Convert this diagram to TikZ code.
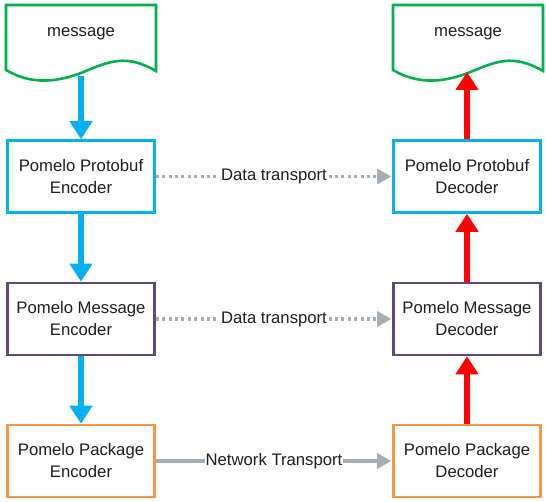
\documentclass[tikz,border=0pt]{standalone}
\usepackage{fontspec}
\setmainfont{Liberation Sans}
\usetikzlibrary{arrows.meta}
\definecolor{cblue}{HTML}{00B0F0}
\definecolor{cpurple}{HTML}{5F497A}
\definecolor{corange}{HTML}{F79646}
\definecolor{cgreen}{HTML}{00B050}
\definecolor{cgray}{HTML}{A3AEB6}
\definecolor{cred}{HTML}{FF0000}
\definecolor{ctext}{HTML}{1E1E1E}
\tikzset{
  box/.style={draw, line width=2.6pt, minimum width=147pt, minimum height=72pt, align=center, font=\fontsize{16.7}{22}\selectfont, text=ctext, fill=white},
  docshape/.style={draw=cgreen, line width=2.6pt, fill=white},
  flowdown/.style={draw=cblue, line width=5.5pt, -{Triangle[width=22pt,length=18pt]}},
  flowup/.style={draw=cred, line width=5.5pt, -{Triangle[width=22pt,length=18pt]}},
  datalink/.style={draw=cgray, line width=3.2pt, dash pattern=on 3pt off 3.4pt, -{Triangle[width=15pt,length=14pt]}, shorten >=1pt},
  netlink/.style={draw=cgray, line width=3.2pt, -{Triangle[width=15pt,length=14pt]}, shorten >=1pt},
  lbl/.style={fill=white, inner sep=1pt, text=ctext, font=\fontsize{16.7}{20}\selectfont},
  doctext/.style={text=ctext, font=\fontsize{16.7}{20}\selectfont}
}
\begin{document}
\begin{tikzpicture}[x=1pt,y=-1pt]
\useasboundingbox (0,0) rectangle (546,502);
% documents
\draw[docshape] (6,5) -- (156,5) -- (156,71) .. controls (125,53) and (108,62) .. (81,73) .. controls (52,84) and (28,83) .. (6,70) -- cycle;
\draw[docshape] (393,5) -- (543,5) -- (543,71) .. controls (512,53) and (495,62) .. (468,73) .. controls (439,84) and (415,83) .. (393,70) -- cycle;
\node[doctext] (msgL) at (81,34) {message};
\node[doctext] (msgR) at (468,34) {message};
\coordinate (msgLbot) at (81,76);
\coordinate (msgRbot) at (467,72);
% boxes
\node[box, draw=cblue] (pbE) at (81,176.5) {Pomelo Protobuf\\Encoder};
\node[box, draw=cpurple] (mE) at (81,319) {Pomelo Message\\Encoder};
\node[box, draw=corange] (pkE) at (81,461) {Pomelo Package\\Encoder};
\node[box, draw=cblue] (pbD) at (467,176.5) {Pomelo Protobuf\\Decoder};
\node[box, draw=cpurple] (mD) at (467,319) {Pomelo Message\\Decoder};
\node[box, draw=corange] (pkD) at (467,461) {Pomelo Package\\Decoder};
% flow arrows
\draw[flowdown] (msgLbot) -- (pbE.north);
\draw[flowdown] (pbE.south) -- (mE.north);
\draw[flowdown] (mE.south) -- (pkE.north);
\draw[flowup] (pkD.north) -- (mD.south);
\draw[flowup] (mD.north) -- (pbD.south);
\draw[flowup] (pbD.north) -- (msgRbot);
% transports
\draw[datalink] (pbE.east) -- node[lbl] {Data transport} (pbD.west);
\draw[datalink] (mE.east) -- node[lbl] {Data transport} (mD.west);
\draw[netlink] (pkE.east) -- node[lbl] {Network Transport} (pkD.west);
\end{tikzpicture}
\end{document}
